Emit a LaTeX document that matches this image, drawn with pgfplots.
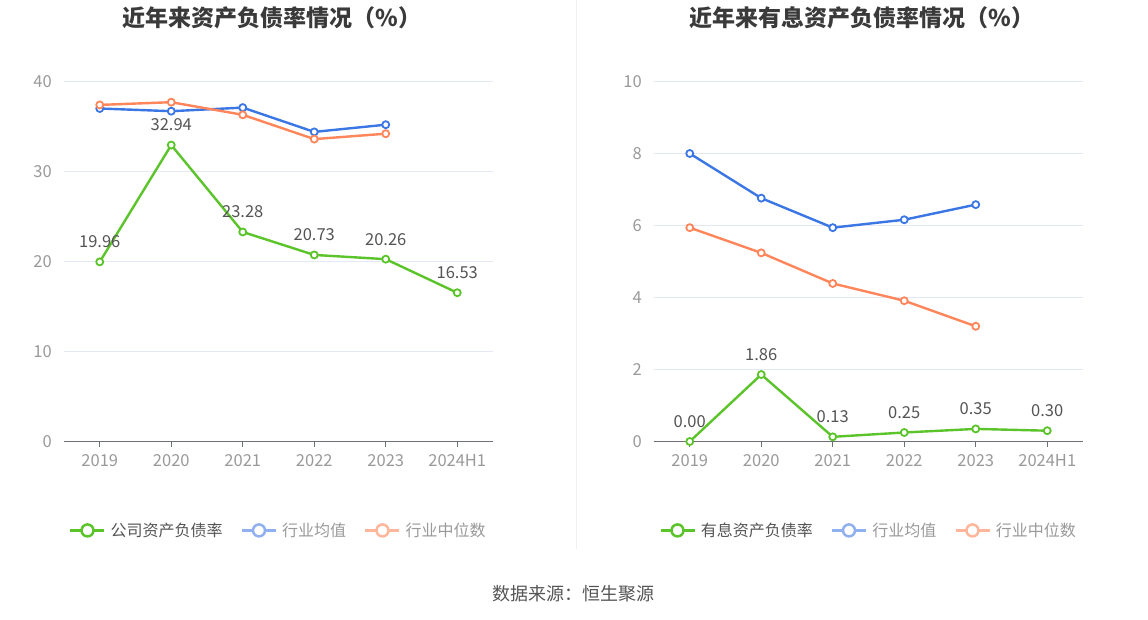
\documentclass[border=0pt]{standalone}
\usepackage{fontspec}
\setmainfont{Noto Sans CJK SC}
\usepackage{pgfplots}
\pgfplotsset{compat=1.18}
\usepackage{pgfplotstable}
\definecolor{cgreen}{HTML}{5BC42B}
\definecolor{cblue}{HTML}{3B76E5}
\definecolor{corange}{HTML}{FF855A}
\definecolor{lblue}{HTML}{90B0F0}
\definecolor{lorange}{HTML}{FFB69A}
\definecolor{gridc}{HTML}{E4E8F4}
\definecolor{axisc}{HTML}{6E7079}
\definecolor{tickc}{HTML}{9A9A9A}
\definecolor{labc}{HTML}{555555}
\definecolor{titlec}{HTML}{3A3A3A}

\pgfplotstableread{
x y lab
0 19.96 19.96
1 32.94 32.94
2 23.28 23.28
3 20.73 20.73
4 20.26 20.26
5 16.53 16.53
}\leftcomp
\pgfplotstableread{
x y
0 37.0
1 36.7
2 37.1
3 34.4
4 35.2
}\leftavg
\pgfplotstableread{
x y
0 37.4
1 37.7
2 36.3
3 33.6
4 34.2
}\leftmed
\pgfplotstableread{
x y lab
0 0.00 0.00
1 1.86 1.86
2 0.13 0.13
3 0.25 0.25
4 0.35 0.35
5 0.30 0.30
}\rightcomp
\pgfplotstableread{
x y
0 8.00
1 6.76
2 5.94
3 6.16
4 6.58
}\rightavg
\pgfplotstableread{
x y
0 5.94
1 5.24
2 4.39
3 3.91
4 3.20
}\rightmed

\pgfplotsset{
  myaxis/.style={
    scale only axis, width=429pt, height=360pt,
    xmin=-0.5, xmax=5.5,
    xtick={0,1,2,3,4,5},
    xticklabels={2019,2020,2021,2022,2023,2024H1},
    axis x line*=bottom, axis y line*=left,
    x axis line style={-, draw=axisc, line width=1pt},
    y axis line style={draw=none},
    xtick style={draw=axisc, line width=1pt},
    ytick style={draw=none},
    major tick length=5pt, tick align=outside,
    ymajorgrids, grid style={draw=gridc, line width=1pt},
    /pgf/number format/assume math mode=true,
    tick label style={font=\fontsize{16.5}{16.5}\selectfont, text=tickc},
    xticklabel style={inner sep=0pt, yshift=-8pt},
    yticklabel style={inner sep=0pt, xshift=-7pt},
    clip=false,
    legend columns=3,
    legend style={draw=none, fill=none, font=\fontsize{16}{16}\selectfont,
      at={(0.5,-0.247)}, anchor=center,
      /tikz/every even column/.append style={column sep=16pt},
      /tikz/every odd column/.append style={column sep=3pt}},
    legend image code/.code={
      \draw[line width=2.5pt] (0pt,0pt) -- (34pt,0pt);
      \draw[line width=2.5pt, fill=white] (17pt,0pt) circle (6pt);
    },
  },
  myline/.style={line width=2.4pt, mark=*, mark size=3.5pt,
    mark options={fill=white, line width=1.8pt, solid}},
  mylabels/.style={point meta=explicit symbolic, nodes near coords,
    every node near coord/.append style={anchor=center, yshift=20pt,
      font=\fontsize{16.5}{16.5}\selectfont, text=labc}},
}

\begin{document}
\begin{tikzpicture}[x=1pt,y=1pt]
\fill[white] (0,0) rectangle (1148,619);
\draw[draw=gray!12, line width=1pt] (576,71) -- (576,619);
\node[font=\bfseries\fontsize{23}{23}\selectfont, text=titlec] at (272,602) {近年来资产负债率情况（\%）};
\node[font=\bfseries\fontsize{23}{23}\selectfont, text=titlec] at (862,602) {近年来有息资产负债率情况（\%）};
\node[font=\fontsize{18}{18}\selectfont, text=labc] at (573,26) {数据来源：恒生聚源};

\begin{axis}[myaxis, at={(64pt,178pt)}, anchor=south west,
  ymin=0, ymax=40, ytick={0,10,20,30,40}]
\addlegendimage{draw=cgreen}
\addlegendentry{\textcolor{labc}{公司资产负债率}}
\addlegendimage{draw=lblue}
\addlegendentry{\textcolor{tickc}{行业均值}}
\addlegendimage{draw=lorange}
\addlegendentry{\textcolor{tickc}{行业中位数}}
\addplot[myline, draw=cblue, forget plot] table[x=x,y=y] {\leftavg};
\addplot[myline, draw=corange, forget plot] table[x=x,y=y] {\leftmed};
\addplot[myline, draw=cgreen, mylabels, forget plot] table[x=x,y=y,meta=lab] {\leftcomp};
\end{axis}

\begin{axis}[myaxis, at={(654pt,178pt)}, anchor=south west,
  ymin=0, ymax=10, ytick={0,2,4,6,8,10}]
\addlegendimage{draw=cgreen}
\addlegendentry{\textcolor{labc}{有息资产负债率}}
\addlegendimage{draw=lblue}
\addlegendentry{\textcolor{tickc}{行业均值}}
\addlegendimage{draw=lorange}
\addlegendentry{\textcolor{tickc}{行业中位数}}
\addplot[myline, draw=cblue, forget plot] table[x=x,y=y] {\rightavg};
\addplot[myline, draw=corange, forget plot] table[x=x,y=y] {\rightmed};
\addplot[myline, draw=cgreen, mylabels, forget plot] table[x=x,y=y,meta=lab] {\rightcomp};
\end{axis}
\end{tikzpicture}
\end{document}
